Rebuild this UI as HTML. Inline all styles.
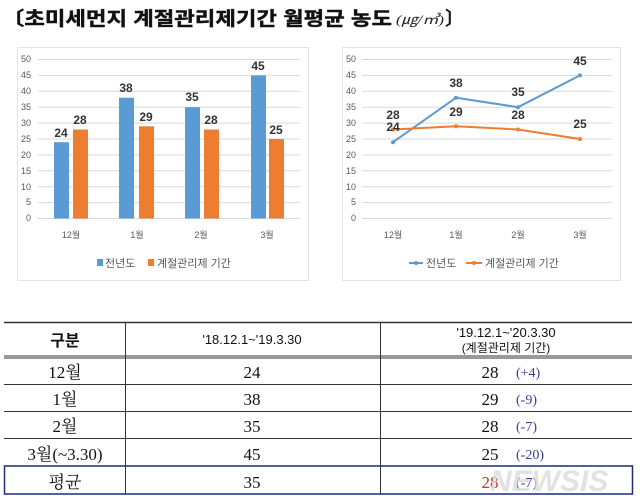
<!DOCTYPE html>
<html><head><meta charset="utf-8"><style>
body{margin:0;background:#fff;}
svg{display:block;font-family:"Liberation Sans","Noto Sans CJK KR",sans-serif;}
</style></head><body>
<svg width="640" height="502" viewBox="0 0 640 502" xmlns="http://www.w3.org/2000/svg">
<rect width="640" height="502" fill="#fff"/>
<!-- title -->
<text x="2" y="25" font-size="19" font-weight="bold" fill="#111" stroke="#111" stroke-width="0.4" textLength="390" lengthAdjust="spacingAndGlyphs">〔초미세먼지 계절관리제기간 월평균 농도</text>
<text x="396" y="24" font-size="13" font-style="italic" font-family="Liberation Serif,serif" fill="#222" textLength="48" lengthAdjust="spacingAndGlyphs">(㎍/㎥)</text>
<text x="445" y="25" font-size="19" font-weight="bold" fill="#111">〕</text>

<!-- left chart -->
<rect x="17.5" y="47.5" width="291" height="233" fill="#fff" stroke="#e3e3e3"/>
<g stroke="#d9d9d9" stroke-width="1">
<line x1="38" x2="300" y1="59.5" y2="59.5"/><line x1="38" x2="300" y1="75.4" y2="75.4"/><line x1="38" x2="300" y1="91.3" y2="91.3"/><line x1="38" x2="300" y1="107.2" y2="107.2"/><line x1="38" x2="300" y1="123.1" y2="123.1"/><line x1="38" x2="300" y1="139" y2="139"/><line x1="38" x2="300" y1="154.9" y2="154.9"/><line x1="38" x2="300" y1="170.8" y2="170.8"/><line x1="38" x2="300" y1="186.7" y2="186.7"/><line x1="38" x2="300" y1="202.6" y2="202.6"/><line x1="38" x2="300" y1="218.5" y2="218.5"/>
</g>
<g font-size="9" fill="#595959" text-anchor="end">
<text x="31" y="62">50</text><text x="31" y="78">45</text><text x="31" y="94">40</text><text x="31" y="110">35</text><text x="31" y="126">30</text><text x="31" y="142">25</text><text x="31" y="158">20</text><text x="31" y="174">15</text><text x="31" y="190">10</text><text x="31" y="205">5</text><text x="31" y="221">0</text>
</g>
<g fill="#5b9bd5">
<rect x="54" y="142.2" width="15" height="76.3"/>
<rect x="119" y="97.7" width="15" height="120.8"/>
<rect x="185" y="107.2" width="15" height="111.3"/>
<rect x="251" y="75.4" width="15" height="143.1"/>
</g>
<g fill="#ed7d31">
<rect x="73" y="129.5" width="15" height="89"/>
<rect x="139" y="126.3" width="15" height="92.2"/>
<rect x="204" y="129.5" width="15" height="89"/>
<rect x="269" y="139" width="15" height="79.5"/>
</g>
<g font-size="12" font-weight="bold" fill="#333" text-anchor="middle">
<text x="61" y="137">24</text><text x="80" y="124">28</text>
<text x="126" y="92">38</text><text x="146" y="121">29</text>
<text x="192" y="101">35</text><text x="211" y="124">28</text>
<text x="258" y="70">45</text><text x="276" y="134">25</text>
</g>
<g font-size="9" fill="#595959" text-anchor="middle">
<text x="71" y="238">12월</text><text x="137" y="238">1월</text><text x="201" y="238">2월</text><text x="267" y="238">3월</text>
</g>
<rect x="97" y="259" width="6" height="7" fill="#5b9bd5"/>
<text x="105" y="267" font-size="11" fill="#595959">전년도</text>
<rect x="148" y="259" width="6" height="7" fill="#ed7d31"/>
<text x="157" y="267" font-size="11" fill="#595959">계절관리제 기간</text>

<!-- right chart -->
<rect x="342.5" y="47.5" width="278" height="233" fill="#fff" stroke="#e3e3e3"/>
<g stroke="#d9d9d9" stroke-width="1">
<line x1="362" x2="612" y1="59.5" y2="59.5"/><line x1="362" x2="612" y1="75.4" y2="75.4"/><line x1="362" x2="612" y1="91.3" y2="91.3"/><line x1="362" x2="612" y1="107.2" y2="107.2"/><line x1="362" x2="612" y1="123.1" y2="123.1"/><line x1="362" x2="612" y1="139" y2="139"/><line x1="362" x2="612" y1="154.9" y2="154.9"/><line x1="362" x2="612" y1="170.8" y2="170.8"/><line x1="362" x2="612" y1="186.7" y2="186.7"/><line x1="362" x2="612" y1="202.6" y2="202.6"/><line x1="362" x2="612" y1="218.5" y2="218.5"/>
</g>
<g font-size="9" fill="#595959" text-anchor="end">
<text x="356" y="62">50</text><text x="356" y="78">45</text><text x="356" y="94">40</text><text x="356" y="110">35</text><text x="356" y="126">30</text><text x="356" y="142">25</text><text x="356" y="158">20</text><text x="356" y="174">15</text><text x="356" y="190">10</text><text x="356" y="205">5</text><text x="356" y="221">0</text>
</g>
<polyline points="393,142.2 456,97.7 518,107.2 580,75.4" fill="none" stroke="#5b9bd5" stroke-width="2"/>
<polyline points="393,129.5 456,126.3 518,129.5 580,139" fill="none" stroke="#ed7d31" stroke-width="2"/>
<g fill="#5b9bd5"><circle cx="393" cy="142.2" r="2"/><circle cx="456" cy="97.7" r="2"/><circle cx="518" cy="107.2" r="2"/><circle cx="580" cy="75.4" r="2"/></g>
<g fill="#ed7d31"><circle cx="393" cy="129.5" r="2"/><circle cx="456" cy="126.3" r="2"/><circle cx="518" cy="129.5" r="2"/><circle cx="580" cy="139" r="2"/></g>
<g font-size="12" font-weight="bold" fill="#333" text-anchor="middle">
<text x="393" y="119">28</text><text x="393" y="131">24</text>
<text x="456" y="87">38</text><text x="456" y="116">29</text>
<text x="518" y="96">35</text><text x="518" y="119">28</text>
<text x="580" y="65">45</text><text x="580" y="128">25</text>
</g>
<g font-size="9" fill="#595959" text-anchor="middle">
<text x="393" y="238">12월</text><text x="456" y="238">1월</text><text x="518" y="238">2월</text><text x="580" y="238">3월</text>
</g>
<line x1="409" x2="423" y1="263" y2="263" stroke="#5b9bd5" stroke-width="2"/><circle cx="416" cy="263" r="2" fill="#5b9bd5"/>
<text x="426" y="267" font-size="11" fill="#595959">전년도</text>
<line x1="466" x2="482" y1="263" y2="263" stroke="#ed7d31" stroke-width="2"/><circle cx="474" cy="263" r="2" fill="#ed7d31"/>
<text x="485" y="267" font-size="11" fill="#595959">계절관리제 기간</text>

<!-- table -->
<g stroke="#333" stroke-width="1">
<line x1="4" x2="632" y1="322.5" y2="322.5" stroke-width="1.5"/>
<line x1="4" x2="632" y1="356" y2="356"/><line x1="4" x2="632" y1="358" y2="358"/>
<line x1="4" x2="632" y1="384.5" y2="384.5"/>
<line x1="4" x2="632" y1="411.5" y2="411.5"/>
<line x1="4" x2="632" y1="438.5" y2="438.5"/>
<line x1="125.5" x2="125.5" y1="322" y2="494"/>
<line x1="380.5" x2="380.5" y1="322" y2="494"/>
</g>
<rect x="4.5" y="466" width="628" height="28" fill="none" stroke="#1f2a7a" stroke-width="1.5"/>
<text x="65" y="346" font-size="16" font-weight="bold" text-anchor="middle" fill="#111">구분</text>
<text x="252" y="344" font-size="13" text-anchor="middle" fill="#111">'18.12.1~'19.3.30</text>
<text x="506" y="337" font-size="13" text-anchor="middle" fill="#111">'19.12.1~'20.3.30</text>
<text x="506" y="352" font-size="12" text-anchor="middle" fill="#111">(계절관리제 기간)</text>
<g font-family="Liberation Serif,'Noto Serif CJK SC',serif" font-size="17" fill="#111" text-anchor="middle">
<text x="65" y="378">12월</text><text x="65" y="405">1월</text><text x="65" y="432">2월</text><text x="65" y="460">3월(~3.30)</text><text x="65" y="488">평균</text>
<text x="252" y="378">24</text><text x="252" y="405">38</text><text x="252" y="432">35</text><text x="252" y="460">45</text><text x="252" y="488">35</text>
<text x="490" y="378">28</text><text x="490" y="405">29</text><text x="490" y="432">28</text><text x="490" y="460">25</text><text x="490" y="488" fill="#c0392b">28</text>
</g>
<g font-family="Liberation Serif,serif" font-size="14" fill="#3a3a9a" text-anchor="start">
<text x="516" y="377">(+4)</text><text x="516" y="404">(-9)</text><text x="516" y="431">(-7)</text><text x="516" y="459">(-20)</text><text x="516" y="487">(-7)</text>
</g>
<text x="490" y="491" font-size="30" font-weight="bold" font-style="italic" fill="#dcdcdc" opacity="0.8">NEWSIS</text>
</svg>
</body></html>
